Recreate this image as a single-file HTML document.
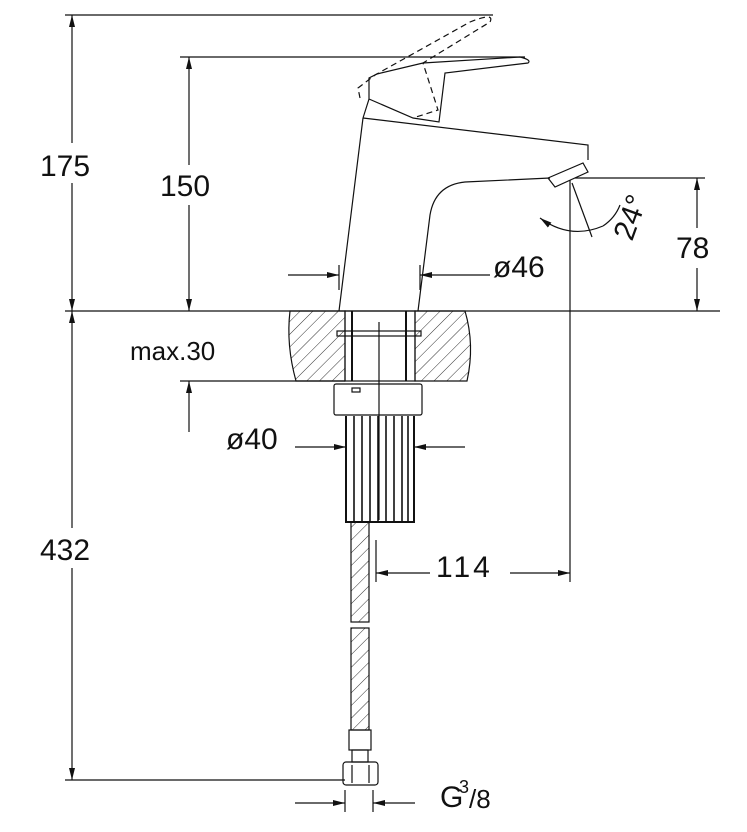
<!DOCTYPE html>
<html><head><meta charset="utf-8"><style>html,body{margin:0;padding:0;background:#fff}svg{display:block}text{font-family:"Liberation Sans",sans-serif;fill:#111}</style></head><body>
<svg width="747" height="832" viewBox="0 0 747 832" xmlns="http://www.w3.org/2000/svg">
<defs>
<pattern id="h" width="9" height="9" patternUnits="userSpaceOnUse" patternTransform="rotate(45)"><line x1="0" y1="0" x2="0" y2="9" stroke="#333" stroke-width="1"/></pattern>
<marker id="a" viewBox="0 0 12 6" refX="12" refY="3" markerWidth="12" markerHeight="6" orient="auto-start-reverse" markerUnits="userSpaceOnUse"><path d="M0,0 L12,3 L0,6z" fill="#111"/></marker>
</defs>
<g stroke="#111" stroke-width="1.2" fill="none">
<line x1="65" y1="15" x2="493" y2="15"/>
<line x1="180" y1="57" x2="525" y2="57"/>
<line x1="65" y1="311" x2="720" y2="311"/>
<line x1="180" y1="381" x2="345" y2="381"/>
<line x1="65" y1="780" x2="345" y2="780"/>
<line x1="575" y1="178" x2="705" y2="178"/>
<line x1="570" y1="180" x2="570" y2="582"/>
<line x1="376" y1="540" x2="376" y2="582"/>
<line x1="72" y1="15" x2="72" y2="311" marker-start="url(#a)" marker-end="url(#a)"/>
<line x1="189" y1="57" x2="189" y2="311" marker-start="url(#a)" marker-end="url(#a)"/>
<line x1="189" y1="432" x2="189" y2="381" marker-end="url(#a)"/>
<line x1="72" y1="311" x2="72" y2="780" marker-start="url(#a)" marker-end="url(#a)"/>
<line x1="697" y1="178" x2="697" y2="311" marker-start="url(#a)" marker-end="url(#a)"/>
<line x1="376" y1="573" x2="430" y2="573" marker-start="url(#a)"/>
<line x1="510" y1="573" x2="570" y2="573" marker-end="url(#a)"/>
<line x1="288" y1="275" x2="339" y2="275" marker-end="url(#a)"/>
<line x1="490" y1="275" x2="420" y2="275" marker-end="url(#a)"/>
<line x1="339" y1="265" x2="339" y2="290"/><line x1="420" y1="265" x2="420" y2="290"/>
<line x1="295" y1="447" x2="346" y2="447" marker-end="url(#a)"/>
<line x1="465" y1="447" x2="414" y2="447" marker-end="url(#a)"/>
<line x1="295" y1="803" x2="345" y2="803" marker-end="url(#a)"/>
<line x1="415" y1="803" x2="373" y2="803" marker-end="url(#a)"/>
<line x1="345" y1="790" x2="345" y2="812"/><line x1="373" y1="790" x2="373" y2="812"/>
<line x1="572" y1="183" x2="592" y2="237"/>
<path d="M540,218 Q570,240 603,226" marker-start="url(#a)"/>
<path d="M603,226 Q615,218 620,205"/>
<path d="M363,118 L339,311 M418,311 L430,215 Q435,185 465,182 L550,178 M363,118 L588,145 L588,160"/>
<path d="M548,178 L583,163 L588,172 L555,187 Z"/>
<path d="M363,118 L369,99 L369,78 L377,74 L423,63 L520,57 Q532,60 528,63 L445,73 L439,122 L413,118 L369,99"/>
<path stroke-dasharray="6,4" d="M360,98 L358,88 L375,75 L470,22 Q495,12 490,22 L423,63 L438,110 L413,118"/>
<path d="M290,311 Q286,345 296,381 L345,381 L345,311 Z" fill="url(#h)"/>
<path d="M415,311 L465,311 Q475,345 467,381 L415,381 Z" fill="url(#h)"/>
<rect x="345" y="311" width="70" height="70"/>
<line x1="352" y1="311" x2="352" y2="381" stroke-width="2"/>
<line x1="406" y1="311" x2="406" y2="381" stroke-width="2"/>
<rect x="337" y="331" width="84" height="5"/>
<line x1="379" y1="322" x2="379" y2="520"/>
<rect x="334" y="384" width="88" height="31" rx="2"/>
<rect x="352" y="388" width="8" height="4"/>
<path d="M346,416 L346,522 L414,522 L414,416" stroke-width="2"/>
<path d="M354,416V522 M362,416V522 M370,416V522 M378,416V522 M386,416V522 M394,416V522 M402,416V522 M408,416V522" stroke-width="1.6"/>
<rect x="351" y="522" width="18" height="100" fill="url(#h)"/>
<rect x="351" y="628" width="18" height="102" fill="url(#h)"/>
<rect x="349" y="730" width="22" height="20"/>
<rect x="352" y="750" width="16" height="12"/>
<rect x="343" y="762" width="35" height="23" rx="3"/>
<line x1="352" y1="765" x2="352" y2="783"/><line x1="369" y1="765" x2="369" y2="783"/>
</g>
<g fill="#fff">
<rect x="38" y="143" width="66" height="40"/>
<rect x="158" y="165" width="66" height="40"/>
<rect x="38" y="528" width="66" height="40"/>
<rect x="672" y="228" width="50" height="40"/>
</g>
<g font-size="30">
<text x="40" y="176">175</text>
<text x="160" y="196">150</text>
<text x="40" y="560">432</text>
<text x="676" y="258">78</text>
<text x="130" y="360" font-size="26">max.30</text>
<text x="493" y="277">ø46</text>
<text x="226" y="449">ø40</text>
<text x="436" y="577" letter-spacing="3">114</text>
<text x="0" y="0" transform="translate(632,242) rotate(-70)">24°</text>
<text x="440" y="807">G</text>
<text x="459" y="793" font-size="18">3</text>
<text x="469" y="808" font-size="26">/8</text>
</g>
</svg>
</body></html>
